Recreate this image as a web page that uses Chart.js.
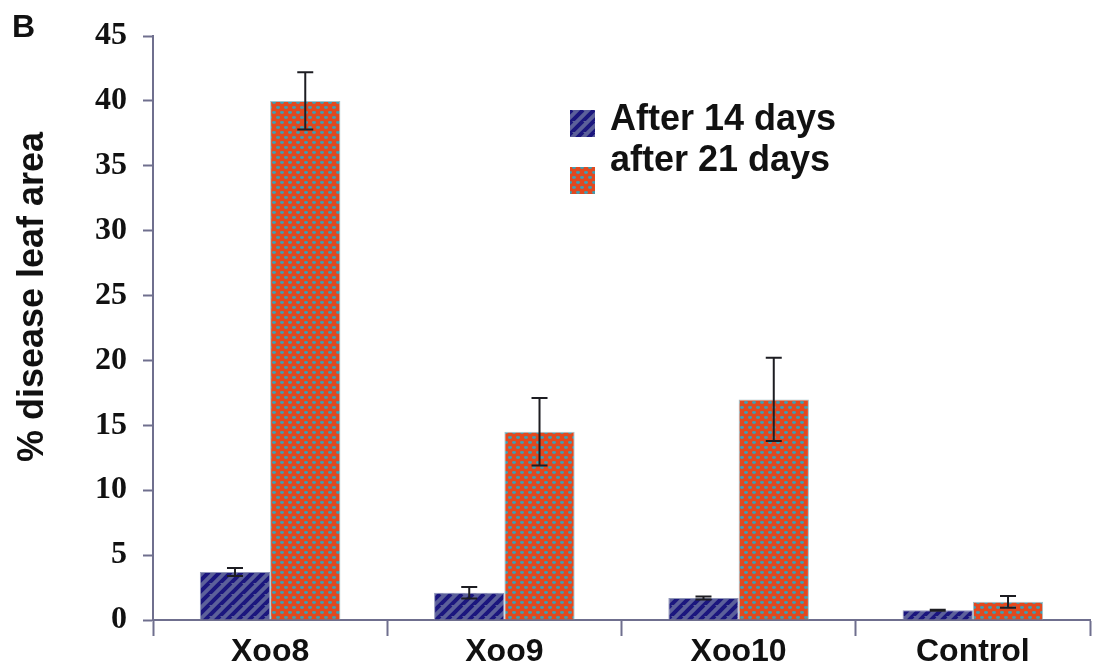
<!DOCTYPE html>
<html>
<head>
<meta charset="utf-8">
<script src="https://cdn.jsdelivr.net/npm/chart.js@4.4.1/dist/chart.umd.min.js"></script>
<style>
  html, body { margin: 0; padding: 0; background: #ffffff; }
  #wrap { width: 1095px; height: 665px; position: relative; }
</style>
</head>
<body>
<div id="wrap"><canvas id="chart" width="1095" height="665"></canvas></div>
<script>
// Isolates and % diseased leaf area after 14 and 21 days
const categories = ['Xoo8', 'Xoo9', 'Xoo10', 'Control'];
const after14 = [3.7, 2.1, 1.7, 0.75];
const after14Err = [0.3, 0.45, 0.12, 0.04];
const after21 = [40.0, 14.5, 17.0, 1.4];
const after21Err = [2.2, 2.6, 3.2, 0.45];
const seriesNames = ['After 14 days', 'after 21 days'];
const yTicks = [0, 5, 10, 15, 20, 25, 30, 35, 40, 45];

const AXIS = '#6f6f8e';
const SANS = '"Liberation Sans", Arial, sans-serif';
const SERIF = '"Liberation Serif", "Times New Roman", serif';

// Diagonal navy stripes on slate blue
function stripePattern(ctx) {
  const c = document.createElement('canvas');
  c.width = 11; c.height = 11;
  const g = c.getContext('2d');
  g.fillStyle = '#5c609a';
  g.fillRect(0, 0, 11, 11);
  g.strokeStyle = '#1b167e';
  g.lineWidth = 4;
  g.beginPath();
  for (let k = -11; k <= 22; k += 11) {
    g.moveTo(k - 11, 22);
    g.lineTo(k + 11, 0);
  }
  g.stroke();
  return ctx.createPattern(c, 'repeat');
}

// Teal dots on orange-red
function dotPattern(ctx) {
  const c = document.createElement('canvas');
  c.width = 8; c.height = 10;
  const g = c.getContext('2d');
  g.fillStyle = '#e2481f';
  g.fillRect(0, 0, 8, 10);
  g.fillStyle = '#3d9fb4';
  const dots = [[2, 2.5], [6, 7.5]];
  dots.forEach(([x, y]) => {
    g.beginPath();
    g.ellipse(x, y, 2, 1.4, 0, 0, Math.PI * 2);
    g.fill();
  });
  return ctx.createPattern(c, 'repeat');
}

const canvas = document.getElementById('chart');
const ctx = canvas.getContext('2d');
const bluePat = stripePattern(ctx);
const orangePat = dotPattern(ctx);

const errorBars = {
  id: 'errorBars',
  afterDatasetsDraw(chart) {
    const c = chart.ctx;
    const y = chart.scales.y;
    const errs = [after14Err, after21Err];
    c.save();
    c.strokeStyle = '#1d1d22';
    c.lineWidth = 2;
    chart.data.datasets.forEach((ds, di) => {
      const meta = chart.getDatasetMeta(di);
      meta.data.forEach((bar, i) => {
        const v = ds.data[i], e = errs[di][i];
        const yt = y.getPixelForValue(v + e);
        const yb = y.getPixelForValue(v - e);
        const x = bar.x, hw = 8;
        c.beginPath();
        c.moveTo(x, yt); c.lineTo(x, yb);
        c.moveTo(x - hw, yt); c.lineTo(x + hw, yt);
        c.moveTo(x - hw, yb); c.lineTo(x + hw, yb);
        c.stroke();
      });
    });
    c.restore();
  }
};

const annotations = {
  id: 'annotations',
  afterDraw(chart) {
    const c = chart.ctx;
    c.save();
    c.fillStyle = '#111111';
    // panel letter
    c.font = 'bold 32px ' + SANS;
    c.textAlign = 'left';
    c.textBaseline = 'alphabetic';
    c.fillText('B', 12, 37);
    // y-axis title
    c.save();
    c.translate(43, 297);
    c.rotate(-Math.PI / 2);
    c.textAlign = 'center';
    c.font = 'bold 36px ' + SANS;
    c.fillText('% disease leaf area', 0, 0);
    c.restore();
    // legend
    c.fillStyle = bluePat;
    c.fillRect(570, 110, 25, 27);
    c.fillStyle = orangePat;
    c.fillRect(570, 167, 25, 27);
    c.fillStyle = '#111111';
    c.font = 'bold 36px ' + SANS;
    c.textAlign = 'left';
    c.fillText(seriesNames[0], 610, 130);
    c.fillText(seriesNames[1], 610, 171);
    c.restore();
  }
};

new Chart(ctx, {
  type: 'bar',
  data: {
    labels: categories,
    datasets: [
      {
        label: seriesNames[0],
        data: after14,
        backgroundColor: bluePat,
        borderColor: '#9096b8',
        borderWidth: 1,
        categoryPercentage: 0.6,
        barPercentage: 1.0
      },
      {
        label: seriesNames[1],
        data: after21,
        backgroundColor: orangePat,
        borderColor: '#9fc3cc',
        borderWidth: 1,
        categoryPercentage: 0.6,
        barPercentage: 1.0
      }
    ]
  },
  options: {
    responsive: false,
    animation: false,
    layout: { padding: { top: 36, right: 5, bottom: 0, left: 0 } },
    plugins: {
      legend: { display: false },
      tooltip: { enabled: false }
    },
    scales: {
      x: {
        offset: true,
        grid: {
          offset: true,
          drawOnChartArea: false,
          drawTicks: true,
          tickLength: 16,
          tickWidth: 2,
          tickColor: AXIS
        },
        border: { display: true, color: AXIS, width: 2 },
        ticks: {
          color: '#111111',
          padding: -3,
          font: { family: SANS, size: 32, weight: 'bold' },
          maxRotation: 0
        },
        afterFit(scale) { scale.height = 45; }
      },
      y: {
        min: 0,
        max: 45,
        afterBuildTicks(scale) { scale.ticks = yTicks.map(v => ({ value: v })); },
        grid: {
          drawOnChartArea: false,
          drawTicks: true,
          tickLength: 10,
          tickWidth: 2,
          tickColor: AXIS
        },
        border: { display: true, color: AXIS, width: 2 },
        ticks: {
          color: '#111111',
          padding: 16,
          font: { family: SERIF, size: 32, weight: 'bold' }
        },
        afterFit(scale) { scale.width = 153; }
      }
    }
  },
  plugins: [errorBars, annotations]
});
</script>
</body>
</html>
